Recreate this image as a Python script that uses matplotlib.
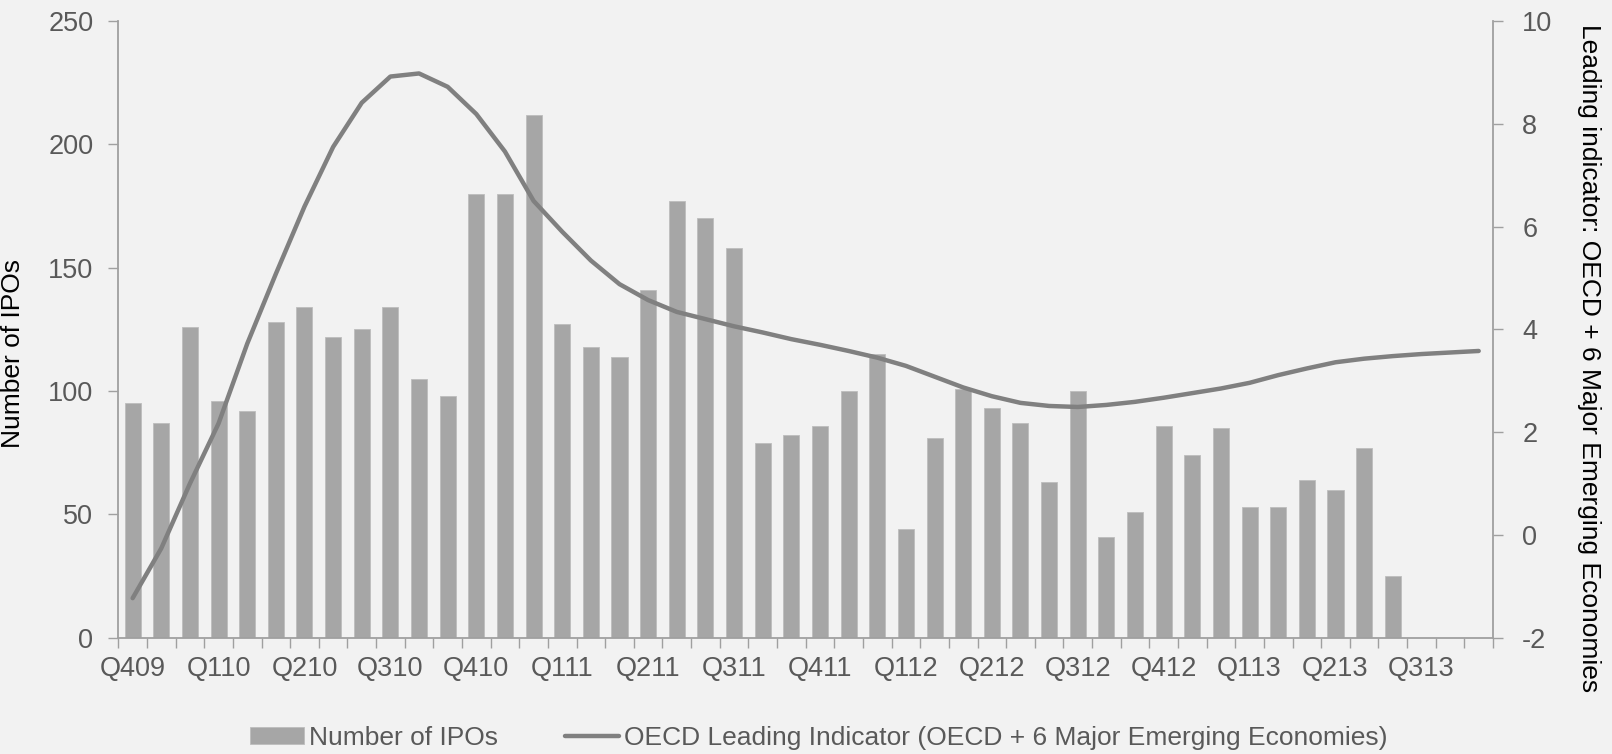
import numpy as np
import matplotlib
matplotlib.use("Agg")
import matplotlib.pyplot as plt

plt.rcParams['font.family'] = ['Liberation Sans', 'DejaVu Sans']
plt.rcParams['axes.unicode_minus'] = False

# Monthly IPO counts, Oct 2009 - Jun 2013
ipo_counts = [95, 87, 126, 96, 92, 128, 134, 122, 125, 134, 105, 98,
              180, 180, 212, 127, 118, 114, 141, 177, 170, 158, 79, 82,
              86, 100, 115, 44, 81, 101, 93, 87, 63, 100, 41, 51,
              86, 74, 85, 53, 53, 64, 60, 77, 25]

# OECD leading indicator (OECD + 6 major emerging economies), Oct 2009 - Sep 2013
oecd_indicator = [-1.23, -0.26, 1.0, 2.17, 3.72, 5.08, 6.39, 7.55, 8.41, 8.92,
                  8.98, 8.72, 8.19, 7.46, 6.5, 5.9, 5.34, 4.88, 4.57, 4.34,
                  4.2, 4.06, 3.94, 3.81, 3.7, 3.58, 3.45, 3.29, 3.08, 2.87,
                  2.7, 2.57, 2.51, 2.49, 2.53, 2.59, 2.67, 2.76, 2.85, 2.96,
                  3.11, 3.24, 3.36, 3.43, 3.48, 3.52, 3.55, 3.58]

quarter_labels = ['Q409', 'Q110', 'Q210', 'Q310', 'Q410', 'Q111', 'Q211', 'Q311',
                  'Q411', 'Q112', 'Q212', 'Q312', 'Q412', 'Q113', 'Q213', 'Q313']

bg = '#F2F2F2'
bar_color = '#A6A6A6'
line_color = '#808080'
axis_color = '#A0A0A0'
text_gray = '#595959'
fs_tick = 19.5
fs = 19

fig = plt.figure(figsize=(16.12, 7.54), dpi=100, facecolor=bg)
ax = fig.add_axes([0.0734, 0.1542, 0.8528, 0.8179])
ax.set_facecolor(bg)

n = len(oecd_indicator)
x_months = np.arange(n)
bars = ax.bar(np.arange(len(ipo_counts)), ipo_counts, width=0.56,
              color=bar_color, edgecolor='#BDBDBD', linewidth=0.6,
              label='Number of IPOs', zorder=2)

ax.set_xlim(-0.5, n - 0.5)
ax.set_ylim(0, 250)
ax.set_yticks(np.arange(0, 251, 50))

# Tick marks at month boundaries, labels at every third month
ax.set_xticks(np.arange(-0.5, n, 1.0))
ax.set_xticklabels([])
ax.set_xticks(np.arange(0, n, 3), minor=True)
ax.set_xticklabels(quarter_labels, minor=True)
ax.tick_params(axis='x', which='major', direction='out', length=7,
               width=1, color=axis_color)
ax.tick_params(axis='x', which='minor', length=0, pad=13,
               labelsize=fs_tick, labelcolor=text_gray)
ax.tick_params(axis='y', direction='out', length=7, width=1, color=axis_color,
               labelsize=fs_tick, labelcolor=text_gray, pad=11)

for side in ['top', 'right']:
    ax.spines[side].set_visible(False)
for side in ['left', 'bottom']:
    ax.spines[side].set_color(axis_color)
    ax.spines[side].set_linewidth(1.3)

ax.set_ylabel('Number of IPOs', fontsize=fs, color='black')
ax.yaxis.set_label_coords(-0.068, 0.461)

ax2 = ax.twinx()
ln, = ax2.plot(x_months, oecd_indicator, color=line_color, linewidth=3.2,
               solid_capstyle='round', solid_joinstyle='round',
               label='OECD Leading Indicator (OECD + 6 Major Emerging Economies)',
               zorder=3)
ax2.set_ylim(-2, 10)
ax2.set_yticks(np.arange(-2, 11, 2))
ax2.tick_params(axis='y', direction='out', length=7, width=1, color=axis_color,
                labelsize=fs_tick, labelcolor=text_gray, pad=14)
for side in ['top', 'left', 'bottom']:
    ax2.spines[side].set_visible(False)
ax2.spines['right'].set_color(axis_color)
ax2.spines['right'].set_linewidth(1.3)
ax2.set_ylabel('Leading indicator: OECD + 6 Major Emerging Economies',
               fontsize=fs, color='black', rotation=270, va='center')
ax2.yaxis.set_label_coords(1.07, 0.454)

leg = fig.legend([bars, ln], [bars.get_label(), ln.get_label()],
                 loc='center', bbox_to_anchor=(0.508, 0.021), ncol=2,
                 frameon=False, fontsize=fs, handlelength=2.03,
                 handletextpad=0.2, columnspacing=2.55, handleheight=0.6)
for t in leg.get_texts():
    t.set_color(text_gray)

fig.savefig('out.png', dpi=100, facecolor=bg)
